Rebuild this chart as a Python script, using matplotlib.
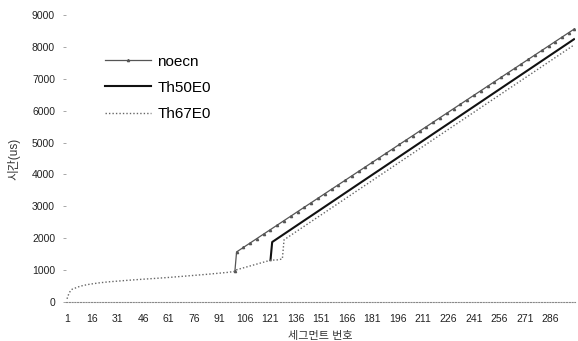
import matplotlib
matplotlib.use("Agg")
import matplotlib.pyplot as plt

plt.rcParams['font.family'] = ['Liberation Sans', 'Noto Sans CJK KR', 'DejaVu Sans']

# shared initial part (segments 1..100), common to all three series
base_x = [1, 2, 3, 4, 6, 8, 10, 13, 16, 20, 25, 31, 38, 46, 53, 61, 68, 76, 84, 91, 96, 100]
base_y = [100, 250, 350, 400, 440, 480, 510, 545, 570, 600, 630, 655, 685, 715, 740, 770, 800, 835, 870, 905, 930, 960]

# slow part shared by Th50E0 / Th67E0 (segments 101..121)
slow_x = [101, 105, 109, 113, 117, 121]
slow_y = [1010, 1070, 1130, 1190, 1250, 1310]

# noecn after the jump at segment 101
noecn_x = list(range(101, 298, 4)) + [300]
noecn_y = [1570, 1710, 1851, 1991, 2132, 2272, 2412, 2553, 2693, 2834,
           2974, 3114, 3255, 3395, 3536, 3676, 3816, 3957, 4097, 4238,
           4378, 4518, 4659, 4799, 4940, 5080, 5220, 5361, 5501, 5642,
           5782, 5922, 6063, 6203, 6344, 6484, 6624, 6765, 6905, 7046,
           7186, 7326, 7467, 7607, 7748, 7888, 8028, 8169, 8309, 8450, 8555]

# Th50E0 after the jump at segment 122
th50_x = list(range(122, 299, 4)) + [300]
th50_y = [1880, 2023, 2166, 2309, 2452, 2595, 2737, 2880, 3023, 3166,
          3309, 3452, 3595, 3738, 3881, 4024, 4166, 4309, 4452, 4595,
          4738, 4881, 5024, 5167, 5310, 5453, 5595, 5738, 5881, 6024,
          6167, 6310, 6453, 6596, 6739, 6882, 7024, 7167, 7310, 7453,
          7596, 7739, 7882, 8025, 8168, 8240]

# Th67E0: continues slowly, then jump at segment 129
th67_x = [125, 128] + list(range(129, 298, 4)) + [300]
th67_y = [1320, 1350,
          1950, 2093, 2236, 2379, 2522, 2665, 2807, 2950, 3093, 3236,
          3379, 3522, 3665, 3808, 3951, 4094, 4236, 4379, 4522, 4665,
          4808, 4951, 5094, 5237, 5380, 5523, 5665, 5808, 5951, 6094,
          6237, 6380, 6523, 6666, 6809, 6952, 7094, 7237, 7380, 7523,
          7666, 7809, 7952, 8060]

xticks = list(range(1, 287, 15))
yticks = [0, 1000, 2000, 3000, 4000, 5000, 6000, 7000, 8000, 9000]

fig = plt.figure(figsize=(5.78, 3.41), dpi=100)
ax = fig.add_axes([0.1145, 0.1144, 0.880, 0.8416])

# overlapping parts are seen as the dotted Th67E0 line in the original
ax.plot(base_x[-1:] + noecn_x, base_y[-1:] + noecn_y, color='#555555', lw=0.9,
        marker='^', markersize=1.6, label='noecn')
ax.plot(slow_x[-1:] + th50_x, slow_y[-1:] + th50_y, color='#111111', lw=1.5,
        label='Th50E0')
ax.plot(base_x + slow_x + th67_x, base_y + slow_y + th67_y, color='#666666',
        lw=1.0, linestyle=(0, (1, 1.5)), label='Th67E0')

ax.set_xlim(0.5, 300.5)
ax.set_ylim(0, 9000)
ax.set_xticks(xticks)
ax.set_xticklabels([str(t) for t in xticks])
ax.set_yticks(yticks)
ax.tick_params(axis='x', length=0, labelsize=7.5, pad=9, colors='#222222')
ax.tick_params(axis='y', length=2, width=0.6, color='#999999', labelsize=7.5,
               pad=6, labelcolor='#222222')

for s in ['top', 'right', 'left']:
    ax.spines[s].set_visible(False)
ax.spines['bottom'].set_linestyle((0, (1, 1.5)))
ax.spines['bottom'].set_color('#888888')
ax.spines['bottom'].set_linewidth(0.8)

ax.set_xlabel('세그먼트 번호', fontsize=8, color='#333333', labelpad=5)
ax.set_ylabel('시간(us)', fontsize=8.5, color='#333333', labelpad=8)

leg = ax.legend(loc='upper left', bbox_to_anchor=(0.05, 0.91), frameon=False,
                fontsize=11, handlelength=3.0, handletextpad=0.4,
                labelspacing=0.8)

fig.savefig('out.png', dpi=100)
